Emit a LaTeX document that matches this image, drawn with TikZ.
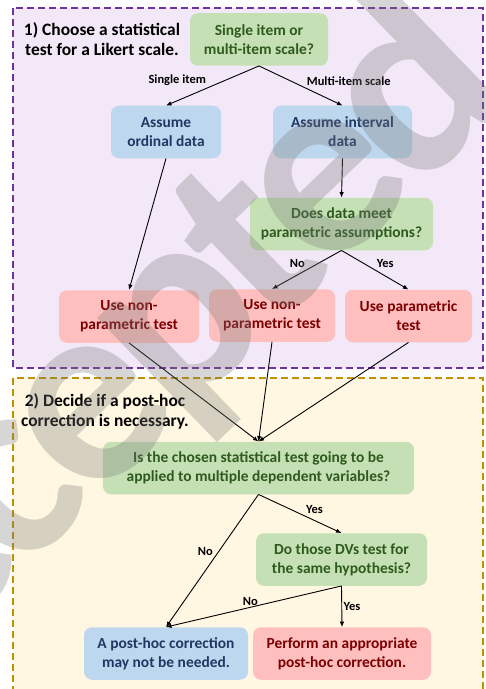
\documentclass[tikz,border=0pt]{standalone}
\usepackage{fontspec}
\setmainfont{Carlito}
\usetikzlibrary{arrows.meta, positioning}
\definecolor{grnfill}{HTML}{C5E0B4}
\definecolor{grntext}{HTML}{2E5A1E}
\definecolor{bluefill}{HTML}{BDD7EE}
\definecolor{bluetext}{HTML}{1F3864}
\definecolor{redfill}{HTML}{FFBFBF}
\definecolor{redtext}{HTML}{7B0000}
\definecolor{lavfill}{HTML}{F2E8F7}
\definecolor{lavline}{HTML}{7030A0}
\definecolor{ylwfill}{HTML}{FFF7E2}
\definecolor{ylwline}{HTML}{BF9000}

\begin{document}
\begin{tikzpicture}[x=1bp, y=-1bp,
  box/.style={rounded corners=8bp, minimum height=52.5bp, align=center,
              inner sep=0pt, font=\fontsize{15.5}{19}\selectfont\bfseries},
  qbox/.style={box, fill=grnfill, text=grntext},
  abox/.style={box, fill=bluefill, text=bluetext},
  tbox/.style={box, fill=redfill, text=redtext},
  panel/.style={line width=1.6bp, dash pattern=on 7bp off 4bp},
  ttl/.style={font=\fontsize{17.5}{20.5}\selectfont\bfseries, align=center, inner sep=0pt},
  lbl/.style={font=\fontsize{12.5}{14}\selectfont\bfseries, inner sep=1.5bp},
  arr/.style={-{Latex[length=5.5bp,width=4.5bp]}, line width=0.9bp},
  wmark/.style={text=black!53, opacity=0.3, inner sep=0pt,
                font=\fontsize{270}{270}\selectfont\bfseries\addfontfeature{LetterSpace=-5}}]

  \useasboundingbox (0,0) rectangle (486,689);

  % panels
  \draw[panel, fill=lavfill, draw=lavline] (13,8) rectangle (483,368);
  \draw[panel, fill=ylwfill, draw=ylwline] (13,378) rectangle (483,700);

  % 1) test choice
  \node[ttl, anchor=north] (ttlA) at (102,22)
    {1) Choose a statistical\\test for a Likert scale.};
  \node[qbox, minimum width=138bp] (scale) at (259,39.5)
    {Single item or\\multi-item scale?};
  \node[abox, minimum width=110bp] (ordinal) at (166,132)
    {Assume\\ordinal data};
  \node[abox, minimum width=139bp] (interval) at (342.5,132)
    {Assume interval\\data};
  \node[qbox, minimum width=183bp] (assump) at (341.5,224)
    {Does data meet\\parametric assumptions?};
  \node[tbox, minimum width=140bp] (nonparA) at (129,316.5)
    {Use non-\\parametric test};
  \node[tbox, minimum width=126bp] (nonparB) at (272,315.5)
    {Use non-\\parametric test};
  \node[tbox, minimum width=127bp] (param) at (408.5,316)
    {Use parametric\\test};

  \draw[arr] (scale.south) -- node[lbl, pos=0.55, anchor=south east] (single) {Single item} (ordinal.north);
  \draw[arr] (scale.south) -- node[lbl, pos=0.55, anchor=south west] (multi) {Multi-item scale} (interval.north);
  \draw[arr] (interval.south) -- (assump.north);
  \draw[arr] (ordinal.south) -- (nonparA.north);
  \draw[arr] (assump.south) -- node[lbl, pos=0.5, anchor=south east] (noA) {No} (nonparB.north);
  \draw[arr] (assump.south) -- node[lbl, pos=0.5, anchor=south west] (yesA) {Yes} (param.north);

  % 2) post-hoc correction
  \node[ttl, anchor=north] (ttlB) at (105,393)
    {2) Decide if a post-hoc\\correction is necessary.};
  \node[qbox, minimum width=311bp] (multiDV) at (258.5,468)
    {Is the chosen statistical test going to be\\applied to multiple dependent variables?};
  \node[qbox, minimum width=171bp] (hypo) at (341.5,559.5)
    {Do those DVs test for\\the same hypothesis?};
  \node[abox, minimum width=164bp] (notneed) at (166,653.5)
    {A post-hoc correction\\may not be needed.};
  \node[tbox, minimum width=178bp] (perform) at (342,653.5)
    {Perform an appropriate\\post-hoc correction.};

  \foreach \src in {nonparA, nonparB, param}
    \draw[arr] (\src.south) -- (multiDV.north);
  \draw[arr] (multiDV.south) -- node[lbl, pos=0.55, anchor=south west] (yesB) {Yes} (hypo.north);
  \draw[arr] (multiDV.south) -- node[lbl, pos=0.43, anchor=east, xshift=-4bp] (noB) {No} (notneed.north);
  \draw[arr] (hypo.south) -- node[lbl, pos=0.52, anchor=south] (noC) {No} (notneed.north);
  \draw[arr] (hypo.south) -- node[lbl, pos=0.5, anchor=west] (yesC) {Yes} (perform.north);

  % watermark
  \begin{scope}
    \clip (0,0) rectangle (486,689);
    \node[wmark, rotate=44, anchor=base west] (stamp) at (-161,750) {Accepted};
  \end{scope}
\end{tikzpicture}
\end{document}
